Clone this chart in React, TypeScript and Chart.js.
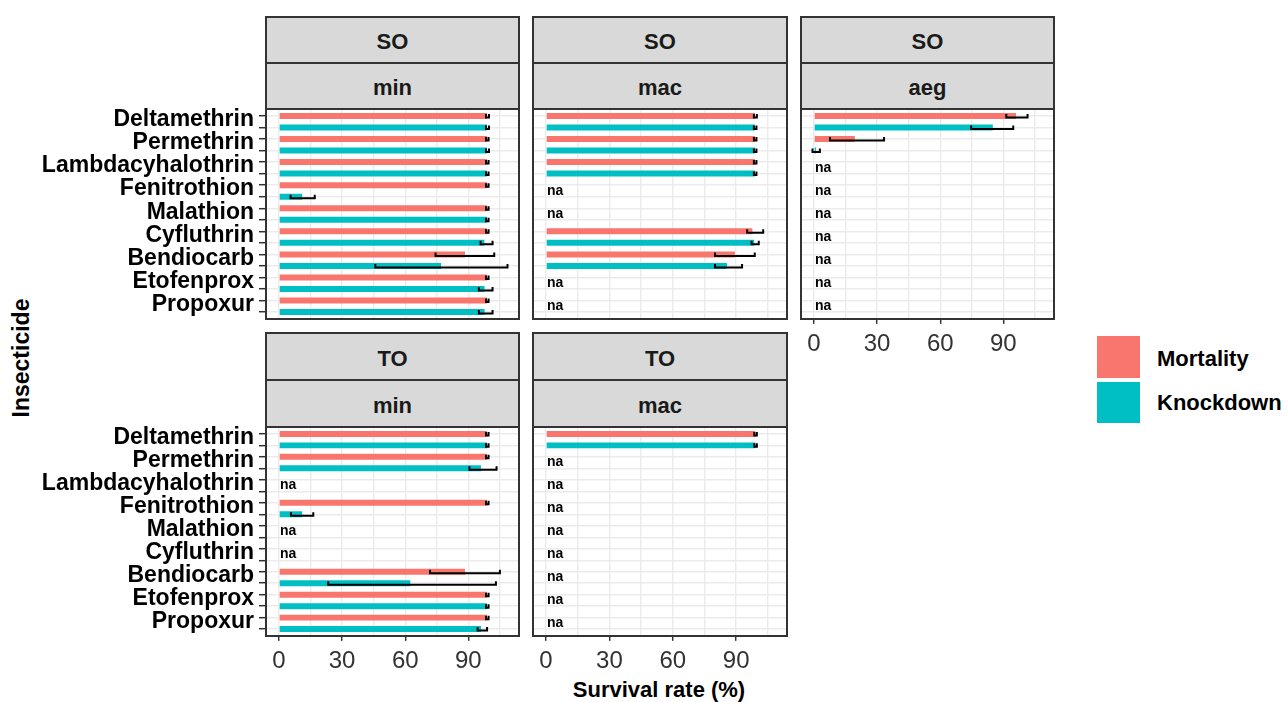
import React, { useEffect, useRef } from 'react';
import { Chart, registerables } from 'chart.js';

Chart.register(...registerables);

// ---------- data ----------
const INSECTICIDES = [
  'Deltamethrin',
  'Permethrin',
  'Lambdacyhalothrin',
  'Fenitrothion',
  'Malathion',
  'Cyfluthrin',
  'Bendiocarb',
  'Etofenprox',
  'Propoxur',
];
const SERIES = ['Mortality', 'Knockdown'];
const X_TICKS = [0, 15, 30, 45, 60, 75, 90, 105];
const X_TICK_LABELS = [0, 30, 60, 90];

const SO_MIN_MORTALITY = [98.9, 98.9, 98.9, 98.9, 98.9, 98.9, 88.4, 98.9, 98.9];
const SO_MIN_MORTALITY_CI = [[98.4, 99.8], [98.4, 99.6], [98.4, 99.6], [98.4, 99.6], [98.4, 99.6], [98.4, 99.6], [74.4, 102.3], [98.4, 99.6], [98.4, 99.6]];
const SO_MIN_KNOCKDOWN = [98.9, 98.9, 98.9, 11.0, 98.9, 97.6, 77.0, 97.7, 97.7];
const SO_MIN_KNOCKDOWN_CI = [[98.4, 99.8], [98.4, 99.8], [98.4, 99.6], [5.5, 17.0], [98.4, 99.6], [95.8, 101.5], [45.8, 108.6], [95.0, 101.5], [95.0, 101.5]];

const SO_MAC_MORTALITY = [98.9, 98.9, 98.9, null, null, 97.7, 89.4, null, null];
const SO_MAC_MORTALITY_CI = [[98.4, 99.8], [98.4, 99.6], [98.4, 99.6], null, null, [95.2, 102.8], [80.0, 98.8], null, null];
const SO_MAC_KNOCKDOWN = [98.9, 98.9, 98.9, null, null, 98.5, 85.7, null, null];
const SO_MAC_KNOCKDOWN_CI = [[98.4, 99.6], [98.4, 99.6], [98.4, 99.6], null, null, [97.3, 100.7], [80.0, 92.8], null, null];

const SO_AEG_MORTALITY = [96.0, 19.4, null, null, null, null, null, null, null];
const SO_AEG_MORTALITY_CI = [[91.4, 101.5], [7.6, 33.3], null, null, null, null, null, null, null];
const SO_AEG_KNOCKDOWN = [85.0, 1.0, null, null, null, null, null, null, null];
const SO_AEG_KNOCKDOWN_CI = [[74.7, 94.7], [-0.7, 2.8], null, null, null, null, null, null, null];

const TO_MIN_MORTALITY = [98.9, 98.9, null, 98.9, null, null, 88.4, 98.9, 98.9];
const TO_MIN_MORTALITY_CI = [[98.4, 99.6], [98.4, 99.6], null, [98.4, 99.6], null, null, [71.8, 105.0], [98.4, 99.6], [98.4, 99.6]];
const TO_MIN_KNOCKDOWN = [98.9, 96.0, null, 11.0, null, null, 62.4, 98.9, 96.0];
const TO_MIN_KNOCKDOWN_CI = [[98.4, 99.6], [90.5, 103.4], null, [5.7, 16.3], null, null, [23.4, 103.1], [98.4, 99.6], [94.4, 98.9]];

const TO_MAC_MORTALITY = [99.1, null, null, null, null, null, null, null, null];
const TO_MAC_MORTALITY_CI = [[98.6, 99.8], null, null, null, null, null, null, null, null];
const TO_MAC_KNOCKDOWN = [99.1, null, null, null, null, null, null, null, null];
const TO_MAC_KNOCKDOWN_CI = [[98.6, 99.8], null, null, null, null, null, null, null, null];

// ---------- style / layout ----------
const RED = '#F8766D';
const TEAL = '#00BFC4';
const GRID = '#EBEBEB';
const BORDER = '#333333';
const STRIP_BG = '#D9D9D9';
const FONT = '"Liberation Sans", Arial, sans-serif';
const X_MIN = -6.17;
const X_MAX = 114.07;

const COLS = [
  { left: 266, right: 519 },
  { left: 533, right: 787 },
  { left: 801, right: 1054 },
];
const ROWS = [
  { strip1: 17, strip2: 63, plotTop: 109, plotBottom: 319 },
  { strip1: 333, strip2: 380, plotTop: 427, plotBottom: 636 },
];
const PAD = 22;
const XH = 46;

const PANELS = [
  { key: 'so-min', site: 'SO', species: 'min', col: 0, row: 0, showY: true, showX: false, mortality: SO_MIN_MORTALITY, mortalityCI: SO_MIN_MORTALITY_CI, knockdown: SO_MIN_KNOCKDOWN, knockdownCI: SO_MIN_KNOCKDOWN_CI },
  { key: 'so-mac', site: 'SO', species: 'mac', col: 1, row: 0, showY: false, showX: false, mortality: SO_MAC_MORTALITY, mortalityCI: SO_MAC_MORTALITY_CI, knockdown: SO_MAC_KNOCKDOWN, knockdownCI: SO_MAC_KNOCKDOWN_CI },
  { key: 'so-aeg', site: 'SO', species: 'aeg', col: 2, row: 0, showY: false, showX: true, mortality: SO_AEG_MORTALITY, mortalityCI: SO_AEG_MORTALITY_CI, knockdown: SO_AEG_KNOCKDOWN, knockdownCI: SO_AEG_KNOCKDOWN_CI },
  { key: 'to-min', site: 'TO', species: 'min', col: 0, row: 1, showY: true, showX: true, mortality: TO_MIN_MORTALITY, mortalityCI: TO_MIN_MORTALITY_CI, knockdown: TO_MIN_KNOCKDOWN, knockdownCI: TO_MIN_KNOCKDOWN_CI },
  { key: 'to-mac', site: 'TO', species: 'mac', col: 1, row: 1, showY: false, showX: true, mortality: TO_MAC_MORTALITY, mortalityCI: TO_MAC_MORTALITY_CI, knockdown: TO_MAC_KNOCKDOWN, knockdownCI: TO_MAC_KNOCKDOWN_CI },
];

// ---------- plugins ----------
const errorBarPlugin = {
  id: 'errorBars',
  afterDatasetsDraw(chart: any) {
    const { ctx } = chart;
    const x = chart.scales.x;
    ctx.save();
    ctx.strokeStyle = '#000';
    ctx.lineWidth = 2;
    ctx.lineCap = 'butt';
    chart.data.datasets.forEach((ds: any, di: number) => {
      const meta = chart.getDatasetMeta(di);
      meta.data.forEach((bar: any, i: number) => {
        const ci = ds.ci[i];
        if (!ci || ds.data[i] == null) return;
        const x1 = x.getPixelForValue(ci[0]);
        const x2 = x.getPixelForValue(ci[1]);
        const y = bar.y + 1.5;
        ctx.beginPath();
        ctx.moveTo(x1, y);
        ctx.lineTo(x2, y);
        ctx.moveTo(x1, y - 3.5);
        ctx.lineTo(x1, y + 1);
        ctx.moveTo(x2, y - 3.5);
        ctx.lineTo(x2, y + 1);
        ctx.stroke();
      });
    });
    ctx.restore();
  },
};

const naPlugin = {
  id: 'naLabels',
  afterDatasetsDraw(chart: any) {
    const { ctx } = chart;
    const x = chart.scales.x;
    const y = chart.scales.y;
    const m = chart.data.datasets[0].data;
    const k = chart.data.datasets[1].data;
    ctx.save();
    ctx.font = `bold 14px ${FONT}`;
    ctx.fillStyle = '#000';
    ctx.textAlign = 'left';
    ctx.textBaseline = 'middle';
    INSECTICIDES.forEach((_, j) => {
      if (m[2 * j] == null && k[2 * j + 1] == null) {
        const yy = (y.getPixelForValue(2 * j) + y.getPixelForValue(2 * j + 1)) / 2;
        ctx.fillText('na', x.getPixelForValue(0) + 1, yy);
      }
    });
    ctx.restore();
  },
};

// ---------- components ----------
function PanelChart({ p }: { p: any }) {
  const ref = useRef<HTMLCanvasElement>(null);
  const col = COLS[p.col];
  const row = ROWS[p.row];
  const plotW = col.right - col.left;
  const plotH = row.plotBottom - row.plotTop;
  const yw = p.showY ? col.left : 0;
  const inset = (plotH * 0.1) / 18.2;
  const canvasLeft = col.left - yw;
  const canvasTop = row.plotTop - PAD;
  const canvasW = yw + plotW;
  const canvasH = PAD + plotH + (p.showX ? XH : PAD);

  useEffect(() => {
    const canvas = ref.current!;
    const labels = INSECTICIDES.flatMap((n) => [n, '']);
    const mort = p.mortality.flatMap((v: any) => [v, null]);
    const kd = p.knockdown.flatMap((v: any) => [null, v]);
    const mortCI = p.mortalityCI.flatMap((c: any) => [c, null]);
    const kdCI = p.knockdownCI.flatMap((c: any) => [null, c]);
    const chart = new Chart(canvas, {
      type: 'bar',
      data: {
        labels,
        datasets: [
          { label: SERIES[0], data: mort, backgroundColor: RED, ci: mortCI } as any,
          { label: SERIES[1], data: kd, backgroundColor: TEAL, ci: kdCI } as any,
        ],
      },
      options: {
        indexAxis: 'y',
        animation: false,
        responsive: false,
        maintainAspectRatio: false,
        layout: {
          padding: {
            left: 0,
            right: 0,
            top: PAD + inset,
            bottom: p.showX ? inset : PAD + inset,
          },
        },
        plugins: { legend: { display: false }, tooltip: { enabled: false } },
        datasets: { bar: { grouped: false, barPercentage: 0.52, categoryPercentage: 1 } },
        scales: {
          x: {
            type: 'linear',
            min: X_MIN,
            max: X_MAX,
            afterBuildTicks: (s: any) => {
              s.ticks = X_TICKS.map((v) => ({ value: v }));
            },
            afterFit: (s: any) => {
              s.height = p.showX ? XH : 0;
              s.paddingLeft = 0;
              s.paddingRight = 0;
            },
            border: { display: false },
            grid: {
              color: GRID,
              lineWidth: 1.4,
              drawTicks: p.showX,
              tickLength: 6,
              tickWidth: 1.5,
              tickColor: (ctx: any) =>
                ctx.tick && X_TICK_LABELS.includes(ctx.tick.value) ? BORDER : 'rgba(0,0,0,0)',
            },
            ticks: {
              display: p.showX,
              autoSkip: false,
              maxRotation: 0,
              minRotation: 0,
              padding: 6,
              color: '#333333',
              font: { family: FONT, size: 24 },
              callback: (v: any) => (X_TICK_LABELS.includes(v) ? String(v) : ''),
            },
          },
          y: {
            type: 'category',
            offset: true,
            afterFit: (s: any) => {
              s.width = yw;
              s.paddingTop = 0;
              s.paddingBottom = 0;
            },
            border: { display: false },
            grid: {
              offset: false,
              color: GRID,
              lineWidth: 1.4,
              drawTicks: p.showY,
              tickLength: 7,
              tickWidth: 1.5,
              tickColor: BORDER,
            },
            ticks: {
              display: p.showY,
              autoSkip: false,
              padding: 5,
              labelOffset: 4,
              color: '#000000',
              font: { family: FONT, size: 23, weight: 'bold' },
            },
          },
        },
      } as any,
      plugins: [errorBarPlugin, naPlugin],
    });
    return () => chart.destroy();
  }, []);

  const stripStyle = (top: number, bottom: number): React.CSSProperties => ({
    position: 'absolute',
    left: col.left - 1,
    top: top - 1,
    width: plotW + 2,
    height: bottom - top + 2,
    boxSizing: 'border-box',
    border: `2px solid ${BORDER}`,
    background: STRIP_BG,
    display: 'flex',
    alignItems: 'center',
    justifyContent: 'center',
    paddingTop: 4,
    fontFamily: FONT,
    fontWeight: 'bold',
    fontSize: 22,
    color: '#1A1A1A',
  });

  return (
    <>
      <div style={stripStyle(row.strip1, row.strip2)}>{p.site}</div>
      <div style={stripStyle(row.strip2, row.plotTop)}>{p.species}</div>
      <canvas
        ref={ref}
        width={canvasW}
        height={canvasH}
        style={{ position: 'absolute', left: canvasLeft, top: canvasTop, width: canvasW, height: canvasH, zIndex: 1 }}
      />
      <div
        style={{
          position: 'absolute',
          left: col.left - 1,
          top: row.plotTop - 1,
          width: plotW + 2,
          height: plotH + 2,
          boxSizing: 'border-box',
          border: `2px solid ${BORDER}`,
          zIndex: 2,
          pointerEvents: 'none',
        }}
      />
    </>
  );
}

export default function App() {
  const text: React.CSSProperties = {
    position: 'absolute',
    fontFamily: FONT,
    fontWeight: 'bold',
    fontSize: 22,
    color: '#000',
    whiteSpace: 'nowrap',
  };
  return (
    <div style={{ position: 'absolute', left: 0, top: 0, width: 1288, height: 702, background: '#fff', overflow: 'hidden' }}>
      {PANELS.map((p) => (
        <PanelChart key={p.key} p={p} />
      ))}
      <div
        style={{
          ...text,
          fontSize: 23,
          left: 21 - 150,
          top: 358 - 15,
          width: 300,
          height: 30,
          lineHeight: '30px',
          textAlign: 'center',
          transform: 'rotate(-90deg)',
        }}
      >
        Insecticide
      </div>
      <div style={{ ...text, left: 659 - 200, top: 690 - 15, width: 400, height: 30, lineHeight: '30px', textAlign: 'center' }}>
        Survival rate (%)
      </div>
      <div style={{ position: 'absolute', left: 1097, top: 336, width: 43, height: 42, background: RED }} />
      <div style={{ position: 'absolute', left: 1097, top: 382, width: 43, height: 41, background: TEAL }} />
      <div style={{ ...text, left: 1157, top: 359 - 15, height: 30, lineHeight: '30px' }}>{SERIES[0]}</div>
      <div style={{ ...text, left: 1157, top: 403 - 15, height: 30, lineHeight: '30px' }}>{SERIES[1]}</div>
    </div>
  );
}
